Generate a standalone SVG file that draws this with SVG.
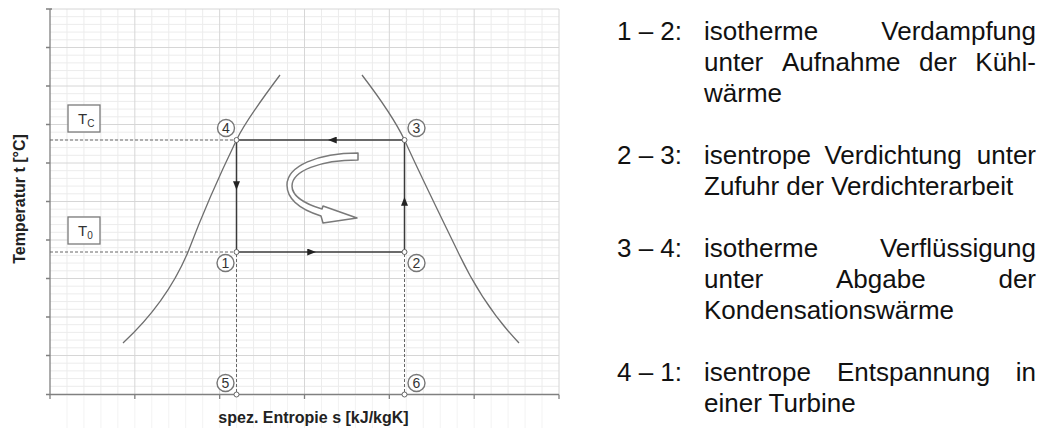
<svg xmlns="http://www.w3.org/2000/svg" width="1046" height="428" viewBox="0 0 1046 428">
<style>
.minor{stroke:#ececec;stroke-width:1;fill:none}
.major{stroke:#d6d6d6;stroke-width:1;fill:none}
.below{stroke:#f3f3f3;stroke-width:1;fill:none}
.axis{stroke:#808080;stroke-width:1.3;fill:none}
.curve{stroke:#6e6e6e;stroke-width:1.3;fill:none}
.cycle{stroke:#3a3a3a;stroke-width:1.5;fill:none}
.dash{stroke:#666;stroke-width:1;stroke-dasharray:3 2;fill:none}
.pt{fill:#fff;stroke:#666;stroke-width:1}
.num circle{fill:#fff;stroke:#777;stroke-width:1.4}
.num text{font-family:"Liberation Sans",Arial,sans-serif;font-size:14px;fill:#333;text-anchor:middle}
.tbox rect{fill:#fff;stroke:#7a7a7a;stroke-width:1.3}
.tbox text{font-family:"Liberation Sans",Arial,sans-serif;fill:#333}
.ax{font-family:"Liberation Sans",Arial,sans-serif;font-size:16px;font-weight:bold;fill:#222;text-anchor:middle}
.desc{font-family:"Liberation Sans",Arial,sans-serif;font-size:26px;fill:#111}
.end{text-anchor:end}
</style>
<defs>
<marker id="ah" viewBox="0 0 10 8" refX="10" refY="4" markerWidth="10" markerHeight="7" markerUnits="userSpaceOnUse" orient="auto">
<path d="M0,0 L10,4 L0,8 z" fill="#222"/>
</marker>
</defs>
<g id="grid">
<path class="below" d="M66.97 396V428M83.93 396V428M100.9 396V428M117.87 396V428M134.83 400V428M151.8 396V428M168.77 396V428M185.73 396V428M202.7 396V428M219.67 400V428M236.63 396V428M253.6 396V428M270.57 396V428M287.53 396V428M304.5 400V428M321.47 396V428M338.43 396V428M355.4 396V428M372.37 396V428M389.33 400V428M406.3 396V428M423.27 396V428M440.23 396V428M457.2 396V428M474.17 400V428M491.13 396V428M508.1 396V428M525.07 396V428M542.03 396V428"/>
<path class="minor" d="M66.97 9V394M83.93 9V394M100.9 9V394M117.87 9V394M151.8 9V394M168.77 9V394M185.73 9V394M202.7 9V394M236.63 9V394M253.6 9V394M270.57 9V394M287.53 9V394M321.47 9V394M338.43 9V394M355.4 9V394M372.37 9V394M406.3 9V394M423.27 9V394M440.23 9V394M457.2 9V394M491.13 9V394M508.1 9V394M525.07 9V394M542.03 9V394"/>
<path class="minor" d="M50 16.7H559M50 24.4H559M50 32.1H559M50 39.8H559M50 55.2H559M50 62.9H559M50 70.6H559M50 78.3H559M50 93.7H559M50 101.4H559M50 109.1H559M50 116.8H559M50 132.2H559M50 139.9H559M50 147.6H559M50 155.3H559M50 170.7H559M50 178.4H559M50 186.1H559M50 193.8H559M50 209.2H559M50 216.9H559M50 224.6H559M50 232.3H559M50 247.7H559M50 255.4H559M50 263.1H559M50 270.8H559M50 286.2H559M50 293.9H559M50 301.6H559M50 309.3H559M50 324.7H559M50 332.4H559M50 340.1H559M50 347.8H559M50 363.2H559M50 370.9H559M50 378.6H559M50 386.3H559"/>
<path class="major" d="M134.83 9V394M219.67 9V394M304.5 9V394M389.33 9V394M474.17 9V394M559 9V394M50 9H559M50 47.5H559M50 86H559M50 124.5H559M50 163H559M50 201.5H559M50 240H559M50 278.5H559M50 317H559M50 355.5H559"/>
</g>
<g id="axes">
<path class="axis" d="M50 9V394.5H559"/>
<path class="axis" d="M46 9H52M46 47.5H50M46 86H50M46 124.5H50M46 163H50M46 201.5H50M46 240H50M46 278.5H50M46 317H50M46 355.5H50M46 394.5H50M50 394.5V399M134.83 394.5V399M219.67 394.5V399M304.5 394.5V399M389.33 394.5V399M474.17 394.5V399M559 394.5V399"/>
<text class="ax" transform="translate(25,199) rotate(-90)">Temperatur t [°C]</text>
<text class="ax" x="313.5" y="423">spez. Entropie s [kJ/kgK]</text>
</g>
<g id="saturation-curve">
<path class="curve" d="M280,75 C268,91 245,122 236.5,140 C222,170 202,215 188,252 C172,290 150,318 123,343"/>
<path class="curve" d="M362,75 C375,92 395,120 404.5,140 C418,170 440,215 458,252 C475,288 495,318 519,343"/>
</g>
<g id="connectors">
<path class="dash" d="M50 140H234M50 252H234M236.5 254V392M404.5 254V392"/>
<path class="cycle" marker-mid="url(#ah)" d="M236.5,140 L236.5,190 L236.5,252"/>
<path class="cycle" marker-mid="url(#ah)" d="M236.5,252 L316,252 L404.5,252"/>
<path class="cycle" marker-mid="url(#ah)" d="M404.5,252 L404.5,197 L404.5,140"/>
<path class="cycle" marker-mid="url(#ah)" d="M404.5,140 L328,140 L236.5,140"/>
</g>
<g id="cycle-direction">
<path d="M358,153 C318,153 287,166 287,185 C287,200 302,210 321,216 L323,223 L357,218 L323,206 L322,209 C305,204 292,196 292,186 C292,171 320,160 358,160 Z" fill="#fff" stroke="#7a7a7a" stroke-width="1.5" stroke-linejoin="round"/>
</g>
<g id="points">
<circle class="pt" cx="236.5" cy="140" r="2.5"/>
<circle class="pt" cx="404.5" cy="140" r="2.5"/>
<circle class="pt" cx="236.5" cy="252" r="2.5"/>
<circle class="pt" cx="404.5" cy="252" r="2.5"/>
<circle class="pt" cx="236.5" cy="394.5" r="2.5"/>
<circle class="pt" cx="404.5" cy="394.5" r="2.5"/>
</g>
<g id="label-1" class="num"><circle cx="225.5" cy="263" r="8.5"/><text x="225.5" y="268">1</text></g>
<g id="label-2" class="num"><circle cx="416.5" cy="263" r="8.5"/><text x="416.5" y="268">2</text></g>
<g id="label-3" class="num"><circle cx="416.5" cy="128" r="8.5"/><text x="416.5" y="133">3</text></g>
<g id="label-4" class="num"><circle cx="226" cy="128" r="8.5"/><text x="226" y="133">4</text></g>
<g id="label-5" class="num"><circle cx="225.5" cy="383" r="8.5"/><text x="225.5" y="388">5</text></g>
<g id="label-6" class="num"><circle cx="416.5" cy="383" r="8.5"/><text x="416.5" y="388">6</text></g>
<g id="tc" class="tbox"><rect x="68" y="105" width="32" height="27"/><text x="78" y="124" font-size="15">T<tspan font-size="10" dy="3">C</tspan></text></g>
<g id="t0" class="tbox"><rect x="68" y="217" width="32" height="27"/><text x="78" y="236" font-size="15">T<tspan font-size="10" dy="3">0</tspan></text></g>
<g id="legend" class="desc">
<text x="617" y="40">1 – 2:</text>
<text x="704" y="40">isotherme</text>
<text x="1036" y="40" class="end">Verdampfung</text>
<text x="704" y="71">unter</text>
<text x="782" y="71">Aufnahme</text>
<text x="919" y="71">der</text>
<text x="1036" y="71" class="end">Kühl-</text>
<text x="704" y="102">wärme</text>
<text x="617" y="164">2 – 3:</text>
<text x="704" y="164">isentrope</text>
<text x="824.4" y="164">Verdichtung</text>
<text x="1036" y="164" class="end">unter</text>
<text x="704" y="195">Zufuhr der Verdichterarbeit</text>
<text x="617" y="257">3 – 4:</text>
<text x="704" y="257">isotherme</text>
<text x="1036" y="257" class="end">Verflüssigung</text>
<text x="704" y="288">unter</text>
<text x="836" y="288">Abgabe</text>
<text x="1036" y="288" class="end">der</text>
<text x="704" y="319">Kondensationswärme</text>
<text x="617" y="381">4 – 1:</text>
<text x="704" y="381">isentrope</text>
<text x="837" y="381">Entspannung</text>
<text x="1036" y="381" class="end">in</text>
<text x="704" y="412">einer Turbine</text>
</g>
</svg>
